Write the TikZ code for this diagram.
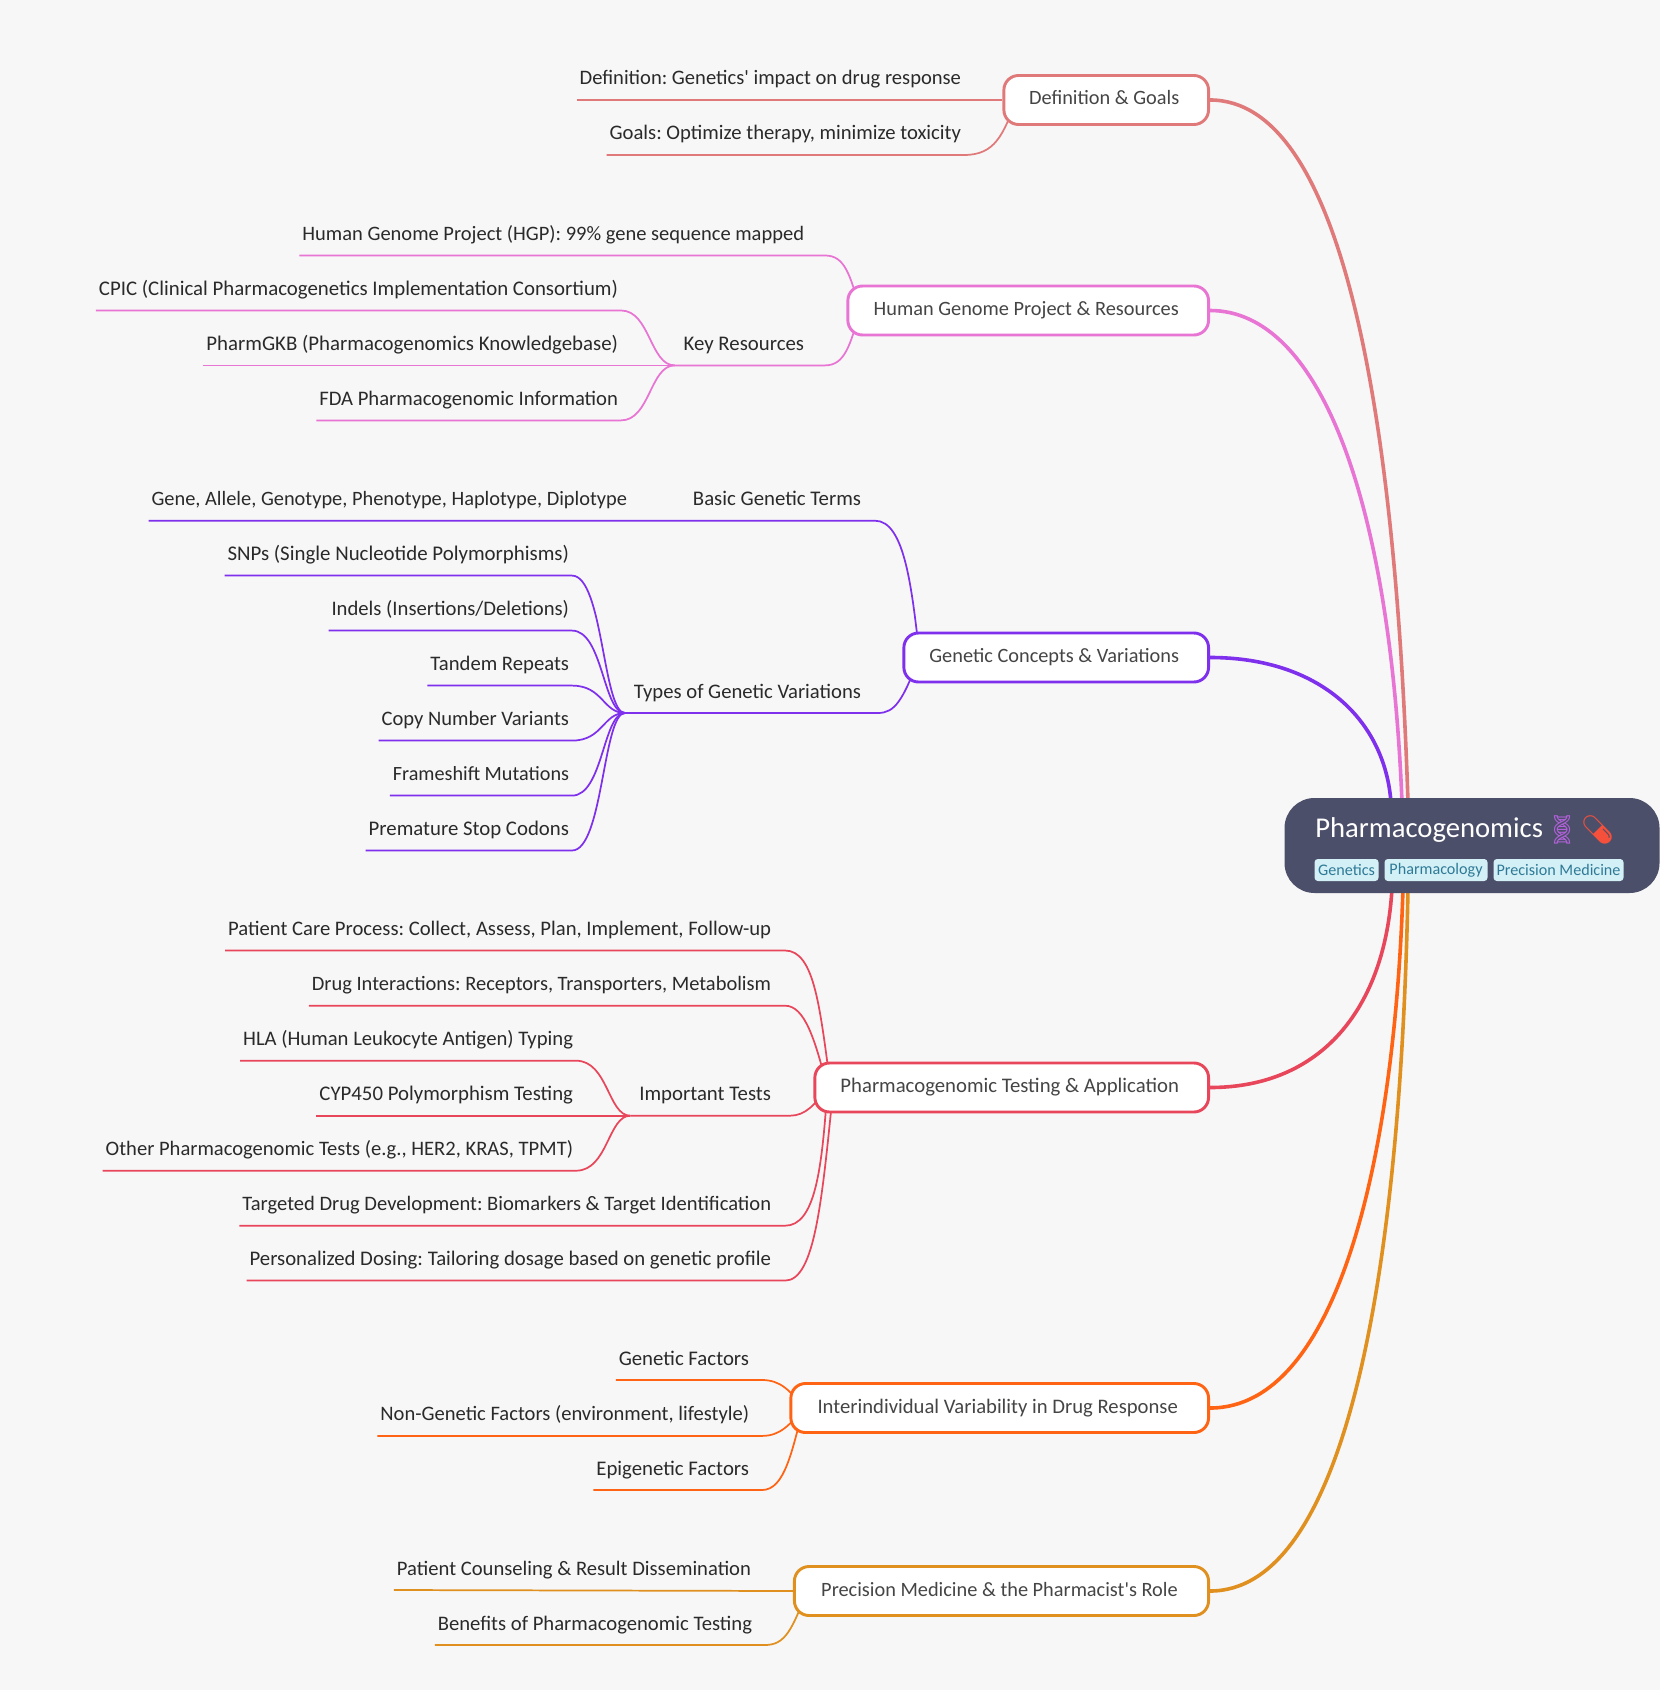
\documentclass[tikz,border=0pt]{standalone}
\usepackage{fontspec}
\setmainfont{Carlito}[Ligatures=TeXOff]
\newfontfamily\emojifont{Noto Emoji}
\usetikzlibrary{positioning,arrows,calc}
\pgfdeclarelayer{background}
\pgfsetlayers{background,main}

\definecolor{pagebg}{HTML}{F7F7F7}
\definecolor{rootbg}{HTML}{4C4F69}
\definecolor{tagbg}{HTML}{D4F0F7}
\definecolor{tagtxt}{HTML}{2E7A96}
\definecolor{leaftxt}{HTML}{2A2A2A}
\definecolor{boxtxt}{HTML}{454545}
\definecolor{salmon}{HTML}{E07A7A}
\definecolor{orchid}{HTML}{E874D4}
\definecolor{violet}{HTML}{7E30EC}
\definecolor{crimson}{HTML}{E8465A}
\definecolor{tangerine}{HTML}{FF6414}
\definecolor{amber}{HTML}{E0901F}
\definecolor{dna}{HTML}{B060D8}
\definecolor{pill}{HTML}{F4503C}

\tikzset{
	fsz/.style={font=\fontsize{#1}{18}\selectfont},
	leaf/.style={anchor=south east,inner ysep=0pt,inner xsep=2.25pt,outer sep=0pt,
		text height=12pt,text depth=11.25pt,text=leaftxt,fsz=15.5},
	midleaf/.style={leaf,inner xsep=6.75pt},
	branch/.style={anchor=east,fill=white,line width=2.2pt,rounded corners=11pt,
		minimum height=36.75pt,text height=11pt,text depth=3.5pt,text=boxtxt,
		fsz=15.25,execute at end node={\hspace{3pt}}},
	tag/.style={fill=tagbg,rounded corners=2.5pt,inner sep=0pt,minimum height=16.5pt,
		text=tagtxt,fsz=12.1},
	ln/.style={line width=1.3pt},
	main/.style={line width=2.7pt}
}

\begin{document}
\frenchspacing
\begin{tikzpicture}[x=0.75pt,y=-0.75pt,>=latex]
	\useasboundingbox (0,0) rectangle (1660,1690);
	\begin{pgfonlayer}{background}
		\fill[pagebg] (0,0) rectangle (1660,1690);
	\end{pgfonlayer}

	\node[fill=rootbg,rounded corners=22.5pt,minimum width=281.25pt,minimum height=71.25pt,
		  inner sep=0pt] (root) at (1472,845.5) {};
	\node[anchor=base west,inner sep=0pt,text=white,font=\fontsize{21.5}{24}\selectfont]
		  (title) at (1315,837) {Pharmacogenomics};
	\node[anchor=base west,inner sep=0pt,font=\emojifont\fontsize{21}{24}\selectfont]
		  (emoji) at (1544,839) {\textcolor{dna}{🧬}\textcolor{pill}{💊}};
	\node[tag,minimum width=48pt] (tagA) at (1346.5,870) {Genetics};
	\node[tag,minimum width=77.25pt] (tagB) at (1436,870) {Pharmacology};
	\node[tag,minimum width=97.5pt] (tagC) at (1558.5,870) {Precision Medicine};

	\node[branch,draw=salmon,minimum width=153.5pt] (DG) at (1210,100) {Definition \& Goals};
	\node[branch,draw=orchid,minimum width=270.5pt] (HG) at (1210,310.5) {Human Genome Project \& Resources};
	\node[branch,draw=violet,minimum width=228.5pt] (GC) at (1210,657.5) {Genetic Concepts \& Variations};
	\node[branch,draw=crimson,fsz=15.55,minimum width=295.25pt] (PT) at (1210,1087.5) {Pharmacogenomic Testing \& Application};
	\node[branch,draw=tangerine,fsz=15.5,minimum width=313.25pt] (IV) at (1210,1408) {Interindividual Variability in Drug Response};
	\node[branch,draw=amber,minimum width=310.6pt] (PM) at (1210,1591) {Precision Medicine \& the Pharmacist's Role};

	\node[leaf,fsz=15.43] (defn) at (964,100) {Definition: Genetics' impact on drug response};
	\node[leaf] (goals) at (964,155) {Goals: Optimize therapy, minimize toxicity};

	\node[leaf,fsz=15.37] (hgp) at (807,255.5) {Human Genome Project (HGP): 99\% gene sequence mapped};
	\node[midleaf,fsz=15.6] (keyres) at (813,365.4) {Key Resources};
	\node[leaf,fsz=15.63] (cpic) at (621,310.5) {CPIC (Clinical Pharmacogenetics Implementation Consortium)};
	\node[leaf,fsz=15.64] (gkb) at (621,365.4) {PharmGKB (Pharmacogenomics Knowledgebase)};
	\node[leaf] (fda) at (621,420.4) {FDA Pharmacogenomic Information};

	\node[leaf,fsz=15.6] (terms) at (864,520.7) {Basic Genetic Terms};
	\node[leaf,fsz=15.29] (gene) at (630,520.7) {Gene, Allele, Genotype, Phenotype, Haplotype, Diplotype};
	\node[midleaf] (types) at (870,713) {Types of Genetic Variations};
	\node[leaf,fsz=15.65] (snp) at (572,575.6) {SNPs (Single Nucleotide Polymorphisms)};
	\node[leaf] (indel) at (572,630.6) {Indels (Insertions/Deletions)};
	\node[leaf] (tandem) at (572,685.6) {Tandem Repeats};
	\node[leaf,fsz=15.42] (copy) at (572,740.6) {Copy Number Variants};
	\node[leaf,fsz=15.14] (frame) at (572,795.6) {Frameshift Mutations};
	\node[leaf,fsz=15.6] (stop) at (572,850.5) {Premature Stop Codons};

	\node[leaf] (care) at (774,950.5) {Patient Care Process: Collect, Assess, Plan, Implement, Follow-up};
	\node[leaf,fsz=15.35] (inter) at (774,1005.7) {Drug Interactions: Receptors, Transporters, Metabolism};
	\node[midleaf,fsz=15.6] (tests) at (780,1115.7) {Important Tests};
	\node[leaf] (hla) at (576,1060.7) {HLA (Human Leukocyte Antigen) Typing};
	\node[leaf,fsz=15.6] (cyp) at (576,1115.7) {CYP450 Polymorphism Testing};
	\node[leaf,fsz=15.42] (other) at (576,1170.7) {Other Pharmacogenomic Tests (e.g., HER2, KRAS, TPMT)};
	\node[leaf,fsz=15.41] (target) at (774,1225.7) {Targeted Drug Development: Biomarkers \& Target Identification};
	\node[leaf,fsz=15.57] (dose) at (774,1280.6) {Personalized Dosing: Tailoring dosage based on genetic profile};

	\node[leaf,fsz=15.6] (gfac) at (752,1380) {Genetic Factors};
	\node[leaf,fsz=15.42] (nfac) at (752,1435.9) {Non-Genetic Factors (environment, lifestyle)};
	\node[leaf,fsz=15.6] (efac) at (752,1490) {Epigenetic Factors};

	\node[leaf,fsz=15.46] (couns) at (754,1590) {Patient Counseling \& Result Dissemination};
	\node[leaf] (bene) at (755,1645) {Benefits of Pharmacogenomic Testing};

	\begin{pgfonlayer}{background}
		\draw[main,salmon] (DG.east) .. controls (1340,100) and (1395,400) .. ($(root.north)+(-64,5)$);
		\draw[main,orchid] (HG.east) .. controls (1320,310.5) and (1390,500) .. ($(root.north)+(-70,5)$);
		\draw[main,violet] (GC.east) .. controls (1320,657.5) and (1385,720) .. ($(root.north)+(-81,5)$);
		\draw[main,crimson] (PT.east) .. controls (1320,1087.5) and (1385,1010) .. ($(root.south)+(-80,-5)$);
		\draw[main,tangerine] (IV.east) .. controls (1340,1408) and (1395,1150) .. ($(root.south)+(-69,-5)$);
		\draw[main,amber] (PM.east) .. controls (1340,1591) and (1400,1300) .. ($(root.south)+(-64,-5)$);

		\draw[ln,salmon] (defn.south west) -- (DG.west);
		\draw[ln,salmon] (goals.south west) -- (goals.south east) .. controls (995,155) and (1003,135) .. ([xshift=10.5pt]DG.west);

		\draw[ln,orchid] (hgp.south west) -- (hgp.south east) -- (825,255.5) .. controls (845,255.5) and (850,275) .. ([xshift=10.5pt]HG.west);
		\draw[ln,orchid] (keyres.south west) -- (keyres.south east) -- (825,365.4) .. controls (845,365.4) and (850,345) .. ([xshift=10.5pt]HG.west);
		\draw[ln,orchid] (cpic.south west) -- (cpic.south east) .. controls (650,310.5) and (650,365.4) .. (keyres.south west);
		\draw[ln,orchid] (gkb.south west) -- (keyres.south west);
		\draw[ln,orchid] (fda.south west) -- (fda.south east) .. controls (650,420.4) and (650,365.4) .. (keyres.south west);

		\draw[ln,violet] (gene.south west) -- (terms.south east) -- (875,520.7) .. controls (905,520.7) and (912,590) .. ([xshift=13pt]GC.west);
		\draw[ln,violet] (types.south west) -- (types.south east) -- (878,713) .. controls (895,713) and (903,700) .. ([xshift=12.5pt]GC.west);
		\draw[ln,violet] (snp.south west) -- (snp.south east) .. controls (603,575.6) and (603,713) .. (types.south west);
		\draw[ln,violet] (indel.south west) -- (indel.south east) .. controls (603,630.6) and (603,713) .. (types.south west);
		\draw[ln,violet] (tandem.south west) -- (tandem.south east) .. controls (603,685.6) and (603,713) .. (types.south west);
		\draw[ln,violet] (copy.south west) -- (copy.south east) .. controls (603,740.6) and (603,713) .. (types.south west);
		\draw[ln,violet] (frame.south west) -- (frame.south east) .. controls (603,795.6) and (603,713) .. (types.south west);
		\draw[ln,violet] (stop.south west) -- (stop.south east) .. controls (603,850.5) and (603,713) .. (types.south west);

		\draw[ln,crimson] (care.south west) -- (care.south east) -- (785,950.5) .. controls (815,950.5) and (820,1010) .. ([xshift=13pt]PT.west);
		\draw[ln,crimson] (inter.south west) -- (inter.south east) -- (785,1005.7) .. controls (805,1005.7) and (815,1040) .. ([xshift=10.5pt]PT.west);
		\draw[ln,crimson] (tests.south west) -- (tests.south east) -- (790,1115.7) .. controls (805,1115.7) and (815,1105) .. ([xshift=10.5pt]PT.west);
		\draw[ln,crimson] (hla.south west) -- (hla.south east) .. controls (608,1060.7) and (608,1115.7) .. (tests.south west);
		\draw[ln,crimson] (cyp.south west) -- (tests.south west);
		\draw[ln,crimson] (other.south west) -- (other.south east) .. controls (608,1170.7) and (608,1115.7) .. (tests.south west);
		\draw[ln,crimson] (target.south west) -- (target.south east) -- (785,1225.7) .. controls (815,1225.7) and (822,1170) .. ([xshift=10.5pt]PT.west);
		\draw[ln,crimson] (dose.south west) -- (dose.south east) -- (785,1280.6) .. controls (815,1280.6) and (822,1200) .. ([xshift=15pt]PT.west);

		\draw[ln,tangerine] (gfac.south west) -- (gfac.south east) -- (762,1380) .. controls (780,1380) and (790,1390) .. ([xshift=10.5pt]IV.west);
		\draw[ln,tangerine] (nfac.south west) -- (nfac.south east) -- (762,1435.9) .. controls (780,1435.9) and (790,1425) .. ([xshift=10.5pt]IV.west);
		\draw[ln,tangerine] (efac.south west) -- (efac.south east) -- (762,1490) .. controls (785,1490) and (792,1450) .. ([xshift=10.5pt]IV.west);

		\draw[ln,amber] (couns.south west) -- (PM.west);
		\draw[ln,amber] (bene.south west) -- (bene.south east) -- (765,1645) .. controls (785,1645) and (792,1630) .. ([xshift=10.5pt]PM.west);
	\end{pgfonlayer}
\end{tikzpicture}
\end{document}
